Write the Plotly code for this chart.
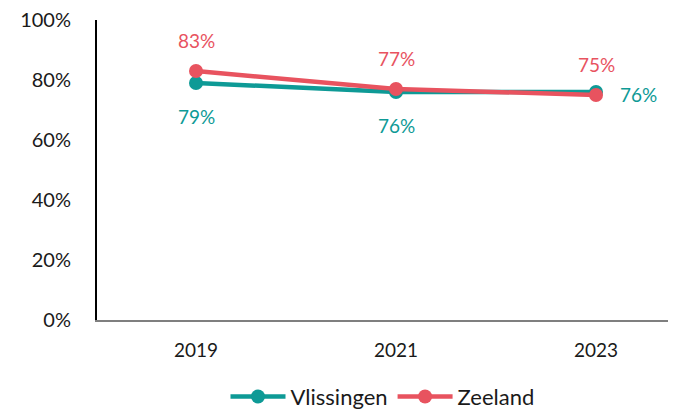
import plotly.graph_objects as go

years = ["2019", "2021", "2023"]
vlissingen = [79, 76, 76]
zeeland = [83, 77, 75]
y_ticks = [0, 20, 40, 60, 80, 100]

TEAL = "#0E9A96"
RED = "#E8535F"
FONT = "Lato, sans-serif"

fig = go.Figure()
fig.add_trace(go.Scatter(x=years, y=vlissingen, name="Vlissingen", mode="lines+markers",
                         line=dict(color=TEAL, width=4.5), marker=dict(size=14, color=TEAL)))
fig.add_trace(go.Scatter(x=years, y=zeeland, name="Zeeland", mode="lines+markers",
                         line=dict(color=RED, width=4.5), marker=dict(size=14, color=RED)))

for i, v in enumerate(zeeland):
    fig.add_annotation(x=i, y=v, xref="x", yref="y", text=f"{v}%", showarrow=False, yshift=31,
                       font=dict(color=RED, size=19, family=FONT))
for i, v in enumerate(vlissingen):
    if i == len(years) - 1:
        fig.add_annotation(x=i, y=v, xref="x", yref="y", text=f"{v}%", showarrow=False,
                           xshift=42, yshift=-2, font=dict(color=TEAL, size=19, family=FONT))
    else:
        fig.add_annotation(x=i, y=v, xref="x", yref="y", text=f"{v}%", showarrow=False,
                           yshift=-33, font=dict(color=TEAL, size=19, family=FONT))

fig.update_layout(
    width=682, height=409,
    margin=dict(l=97, r=14, t=20, b=89, autoexpand=False),
    paper_bgcolor="white", plot_bgcolor="white",
    font=dict(family=FONT, size=19, color="#1a1a1a"),
    showlegend=True,
    legend=dict(orientation="h", x=0.5, xanchor="center", yref="container", y=0.03,
                yanchor="middle", font=dict(size=22, family=FONT), itemwidth=55),
    xaxis=dict(type="category", range=[-0.495, 2.36], showgrid=False,
               showline=True, linecolor="#7f7f7f", linewidth=2, ticks="",
               ticklabelstandoff=12, tickfont=dict(size=19)),
    yaxis=dict(range=[0, 100], tickvals=y_ticks, ticktext=[f"{t}%" for t in y_ticks],
               showgrid=False, showline=True, linecolor="black", linewidth=2,
               zeroline=False, ticks="", ticklabelstandoff=20, tickfont=dict(size=20)),
)

fig.write_html("out.html")
